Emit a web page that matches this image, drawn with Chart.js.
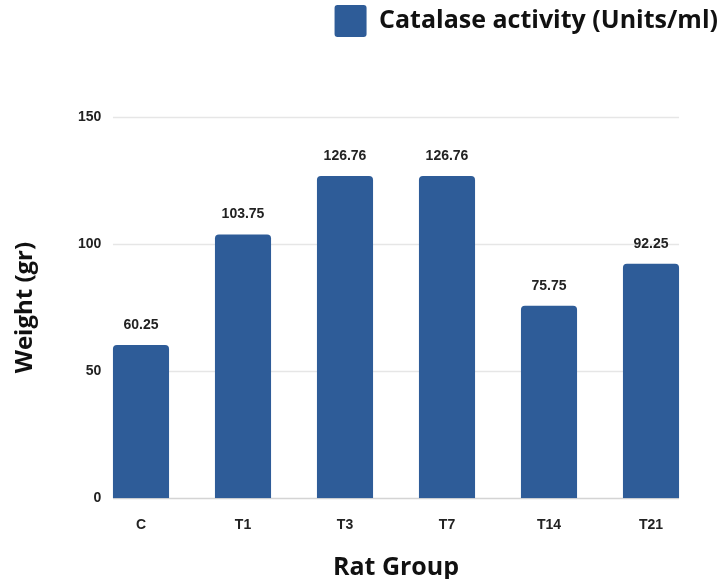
<!DOCTYPE html>
<html>
<head>
<meta charset="utf-8">
<script src="https://cdn.jsdelivr.net/npm/chart.js@4/dist/chart.umd.min.js"></script>
<style>
  html, body { margin: 0; padding: 0; background: #ffffff; }
  #wrap { width: 723px; height: 579px; }
</style>
</head>
<body>
<div id="wrap"><canvas id="c" width="723" height="579"></canvas></div>
<script>
// Rat groups and their catalase activity values
const groups = ['C', 'T1', 'T3', 'T7', 'T14', 'T21'];
const catalase = [60.25, 103.75, 126.76, 126.76, 75.75, 92.25];
const yTicks = [0, 50, 100, 150];

const seriesName = 'Catalase activity (Units/ml)';
const barColor = '#2e5c98';
const titleFont = { family: '"Open Sans", "Noto Sans", sans-serif', size: 25, weight: 'bold' };
const tickFont = { family: '"Liberation Sans", Arial, sans-serif', size: 14, weight: 'bold' };

// Horizontal guide lines that run from the first bar's left edge to the last bar's right edge
const gridPlugin = {
  id: 'barSpanGrid',
  beforeDatasetsDraw(chart) {
    const meta = chart.getDatasetMeta(0);
    const first = meta.data[0], last = meta.data[meta.data.length - 1];
    const x0 = first.x - first.width / 2;
    const x1 = last.x + last.width / 2;
    const y = chart.scales.y;
    const ctx = chart.ctx;
    ctx.save();
    ctx.lineWidth = 1.5;
    yTicks.forEach(v => {
      const py = Math.round(y.getPixelForValue(v)) + 0.5;
      ctx.strokeStyle = v === 0 ? '#d4d4d4' : '#e6e6e6';
      ctx.beginPath();
      ctx.moveTo(x0, py);
      ctx.lineTo(x1, py);
      ctx.stroke();
    });
    ctx.restore();
  }
};

// Value labels above each bar
const valueLabels = {
  id: 'valueLabels',
  afterDatasetsDraw(chart) {
    const ctx = chart.ctx;
    const ds = chart.data.datasets[0];
    const meta = chart.getDatasetMeta(0);
    ctx.save();
    ctx.font = 'bold 14px "Liberation Sans", Arial, sans-serif';
    ctx.fillStyle = '#222222';
    ctx.textAlign = 'center';
    ctx.textBaseline = 'middle';
    meta.data.forEach((bar, i) => {
      ctx.fillText(ds.data[i].toFixed(2), bar.x, bar.y - 20);
    });
    ctx.restore();
  }
};

// Legend sits at the top right with extra space reserved beneath it
const legendLayout = {
  id: 'legendLayout',
  beforeLayout(chart) {
    const lg = chart.legend;
    if (lg && !lg._extraSpace) {
      const fit = lg.fit;
      lg.fit = function () { fit.call(this); this.height += 70; };
      lg._extraSpace = true;
    }
  },
  afterLayout(chart) {
    if (chart.legend) {
      chart.legend.left = 0;
      chart.legend.right = chart.width;
    }
  }
};

new Chart(document.getElementById('c'), {
  type: 'bar',
  data: {
    labels: groups,
    datasets: [{
      label: seriesName,
      data: catalase,
      backgroundColor: barColor,
      borderRadius: 4,
      barPercentage: 0.55,
      categoryPercentage: 1.0
    }]
  },
  options: {
    responsive: false,
    animation: false,
    layout: { padding: { top: 0, right: 21, bottom: -4, left: 0 } },
    plugins: {
      legend: {
        position: 'top',
        align: 'end',
        labels: {
          boxWidth: 32,
          boxHeight: 32,
          useBorderRadius: true,
          borderRadius: 3,
          padding: 5,
          color: '#111111',
          font: { family: '"Open Sans", "Noto Sans", sans-serif', size: 25, weight: 'bold' }
        }
      },
      tooltip: { enabled: false }
    },
    scales: {
      x: {
        grid: { display: false, drawTicks: false },
        border: { display: false },
        ticks: { color: '#222222', padding: 19, font: tickFont },
        title: {
          display: true,
          text: 'Rat Group',
          color: '#111111',
          padding: { top: 0, bottom: 0 },
          font: titleFont
        }
      },
      y: {
        min: 0,
        max: 150,
        afterBuildTicks(scale) {
          scale.ticks = yTicks.map(v => ({ value: v }));
        },
        afterFit(scale) { scale.width = 90; },
        grid: { display: false, drawTicks: false },
        border: { display: false },
        ticks: {
          color: '#222222',
          mirror: true,
          crossAlign: 'far',
          padding: -12,
          font: tickFont
        },
        title: {
          display: true,
          text: 'Weight (gr)',
          color: '#111111',
          padding: { top: 11, bottom: 0 },
          font: { family: '"Open Sans", "Noto Sans", sans-serif', size: 24, weight: 'bold' }
        }
      }
    }
  },
  plugins: [gridPlugin, valueLabels, legendLayout]
});
</script>
</body>
</html>
